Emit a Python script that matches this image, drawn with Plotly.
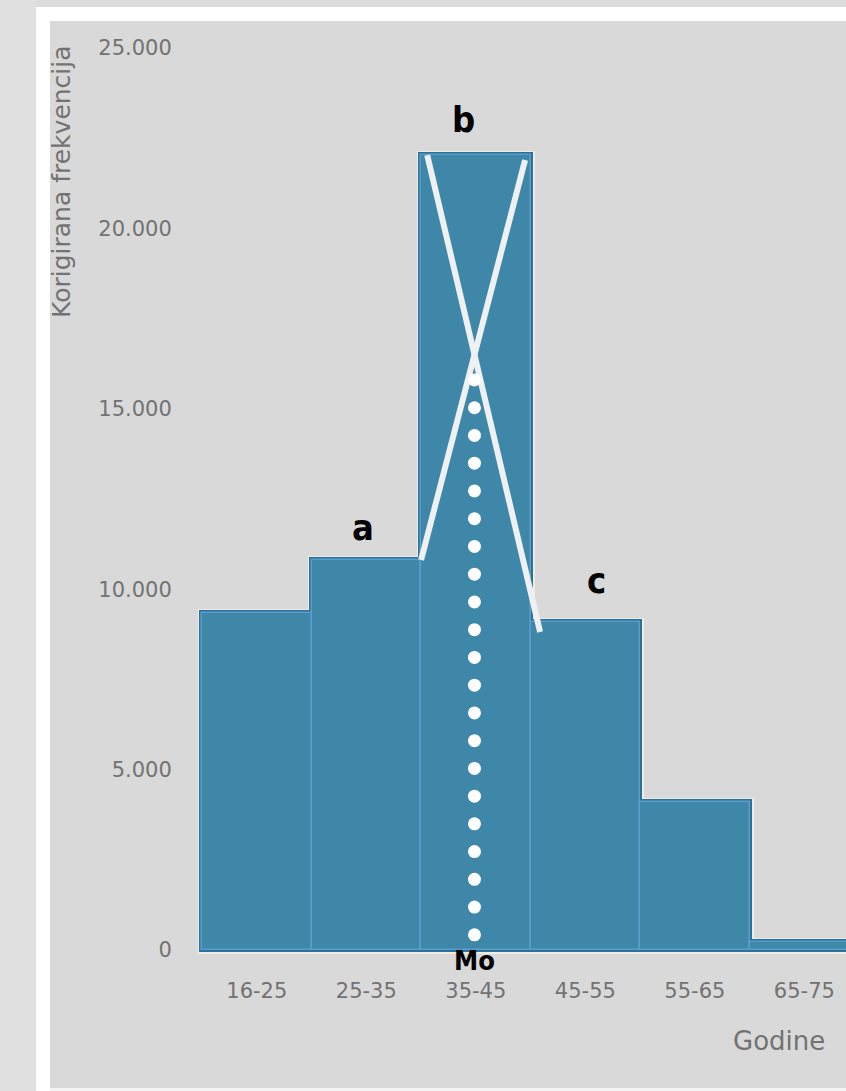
import numpy as np
import plotly.graph_objects as go

# ---------------- data ----------------
categories = ["16-25", "25-35", "35-45", "45-55", "55-65", "65-75"]
values = [9340, 10810, 22030, 9090, 4100, 220]
ytick_vals = [0, 5000, 10000, 15000, 20000, 25000]
ytick_text = ["0", "5.000", "10.000", "15.000", "20.000", "25.000"]
point_labels = ["a", "b", "c"]          # bars before, at and after the modal class
point_bars = [1, 2, 3]
y_title = "Korigirana frekvencija"
x_title = "Godine"
mode_label = "Mo"

W, H = 846, 1091
L, R, T, B = 190, 0, 30, 130
PW, PH = W - L - R, H - T - B

def px(x):   # page pixel -> paper x
    return (x - L) / PW

def py(y):   # page pixel -> paper y
    return (H - B - y) / PH

xpos = list(range(len(categories)))
FILL = "#3e87a9"

fig = go.Figure()
# halo, dark edge, light edge
for lc, lw in [("#f1ece1", 8), ("#2a7298", 5), ("#5a9bcd", 1.6)]:
    fig.add_trace(go.Bar(x=xpos, y=values, width=1.0,
                         marker=dict(color=FILL, line=dict(color=lc, width=lw)),
                         hoverinfo="skip", showlegend=False))

# crossing lines of the graphical mode construction
ia, ib, ic = point_bars
l1 = [(ib - 0.5 + 0.056, values[ib]), (ic - 0.5 + 0.087, values[ic] - 276)]
l2 = [(ib + 0.5 - 0.05, values[ib] - 135), (ia + 0.5, values[ia])]
for seg in (l1, l2):
    fig.add_trace(go.Scatter(x=[p[0] for p in seg], y=[p[1] for p in seg],
                             mode="lines", line=dict(color="#eff0f2", width=6),
                             hoverinfo="skip", showlegend=False))

# intersection
(x1, y1), (x2, y2) = l1
(x3, y3), (x4, y4) = l2
den = (x1 - x2) * (y3 - y4) - (y1 - y2) * (x3 - x4)
t = ((x1 - x3) * (y3 - y4) - (y1 - y3) * (x3 - x4)) / den
xi, yi = x1 + t * (x2 - x1), y1 + t * (y2 - y1)

dots_y = np.linspace(yi - 700, 420, 21)
fig.add_trace(go.Scatter(x=[xi] * len(dots_y), y=dots_y, mode="markers",
                         marker=dict(color="white", size=13),
                         hoverinfo="skip", showlegend=False))

label_font = dict(family="DejaVu Sans Condensed, DejaVu Sans", size=36, color="black")
shifts = [(-3, 32), (-12, 36), (11, 42)]
for lab, bi, (dx, dy) in zip(point_labels, point_bars, shifts):
    fig.add_annotation(x=bi, y=values[bi], text=f"<b>{lab}</b>", showarrow=False,
                       xshift=dx, yshift=dy, yanchor="middle", font=label_font)
fig.add_annotation(x=xi, y=0, text=f"<b>{mode_label}</b>", showarrow=False,
                   yshift=-10, yanchor="middle", font=dict(label_font, size=27))

grey = "#727272"
fig.add_annotation(xref="paper", yref="paper", x=px(62), y=py(182), text=y_title,
                   textangle=-90, showarrow=False, xanchor="center", yanchor="middle",
                   font=dict(family="DejaVu Sans", size=25, color=grey))
fig.add_annotation(xref="paper", yref="paper", x=px(779), y=py(1041), text=x_title,
                   showarrow=False, xanchor="center", yanchor="middle",
                   font=dict(family="DejaVu Sans", size=26, color=grey))

# frame around the picture
frame = [
    (0, 0, 36, H, "#e0e0e0"),
    (36, 0, W, 7, "#dcdcdc"),
    (36, 7, 50, H, "#ffffff"),
    (36, 7, W, 21, "#ffffff"),
    (50, 1088, W, H, "#f4f4f4"),
]
for x0, y0, x1_, y1_, c in frame:
    fig.add_shape(type="rect", xref="paper", yref="paper",
                  x0=px(x0), x1=px(x1_), y0=py(y1_), y1=py(y0),
                  fillcolor=c, line=dict(width=0), layer="above")

fig.update_layout(
    width=W, height=H, margin=dict(l=L, r=R, t=T, b=B, autoexpand=False),
    paper_bgcolor="#d9d9d9", plot_bgcolor="#d9d9d9",
    barmode="overlay", bargap=0, showlegend=False,
    xaxis=dict(range=[-0.61, 5.38], tickvals=xpos, ticktext=categories,
               showgrid=False, zeroline=False, showline=False,
               ticks="outside", ticklen=11, tickcolor="rgba(0,0,0,0)",
               tickfont=dict(family="DejaVu Sans", size=21, color=grey)),
    yaxis=dict(range=[-305, 25499], tickvals=ytick_vals, ticktext=ytick_text,
               showgrid=False, zeroline=False, showline=False,
               ticks="outside", ticklen=13, tickcolor="rgba(0,0,0,0)",
               tickfont=dict(family="DejaVu Sans", size=21, color=grey)),
)

fig.write_html("out.html", config={"displayModeBar": False},
               post_script="document.body.style.margin='0px';"
                           "document.body.style.overflow='hidden';")
